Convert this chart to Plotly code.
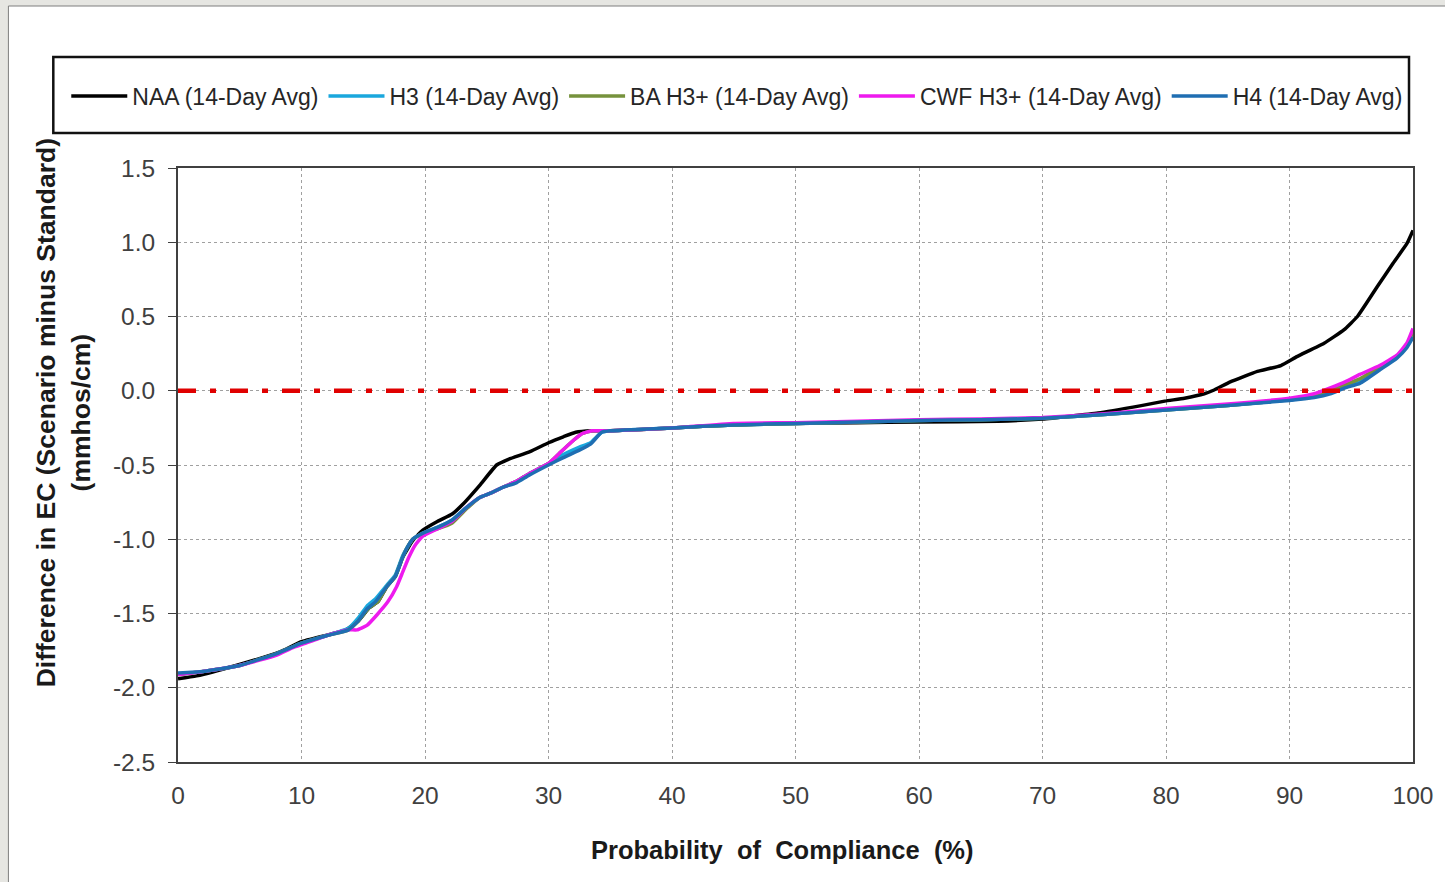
import plotly.graph_objects as go

# probability of compliance (%) and EC difference (mmhos/cm)
naa_x = [0, 1.5, 4.7, 8.2, 10, 13.6, 14.6, 15.5, 16.2, 16.9, 17.6, 18.2, 19.0, 19.8,
         21, 22.2, 23.0, 24.5, 25.8, 26.8, 28.5, 30, 31.2, 32.2, 33.5, 35, 40, 45,
         50, 55, 60, 66.4, 70, 74.5, 78, 79.9, 81.5, 83.1, 83.9, 85.2, 87.4, 89.3,
         90.6, 92.8, 94.4, 95.5, 97.1, 98.4, 99.5, 100]
naa_y = [-1.94, -1.92, -1.85, -1.76, -1.69, -1.61, -1.55, -1.46, -1.42, -1.32, -1.25,
         -1.12, -1.01, -0.94, -0.88, -0.83, -0.77, -0.63, -0.50, -0.46, -0.41, -0.35,
         -0.31, -0.28, -0.27, -0.27, -0.25, -0.23, -0.22, -0.215, -0.21, -0.205, -0.19,
         -0.15, -0.10, -0.07, -0.05, -0.02, 0.005, 0.06, 0.13, 0.17, 0.23, 0.32, 0.41,
         0.50, 0.70, 0.86, 0.99, 1.08]

h3_x = [0, 2, 5, 8, 10, 12, 13.8, 14.6, 15.3, 16.0, 16.9, 17.6, 18.2, 18.6, 19.0,
        19.8, 21, 22.2, 23.3, 24.4, 25.3, 26.3, 27.4, 28.4, 30, 31.2, 32.5, 33.4,
        34.3, 35, 40, 45, 50, 55, 60, 65, 70, 75, 80, 85, 90, 92, 93.3, 94.5, 95.7,
        97.3, 98.7, 99.5, 100]
h3_y = [-1.91, -1.89, -1.85, -1.77, -1.70, -1.65, -1.60, -1.53, -1.45, -1.40, -1.31,
        -1.24, -1.11, -1.05, -1.00, -0.96, -0.92, -0.87, -0.79, -0.72, -0.69, -0.65,
        -0.61, -0.56, -0.49, -0.43, -0.38, -0.35, -0.28, -0.27, -0.25, -0.23, -0.22,
        -0.21, -0.20, -0.195, -0.185, -0.16, -0.13, -0.10, -0.06, -0.04, -0.01, 0.03,
        0.06, 0.15, 0.23, 0.30, 0.38]

ba_x = [0, 2, 5, 8, 10, 12, 13.8, 14.6, 15.5, 16.2, 16.9, 17.6, 18.2, 18.6, 19.0,
        19.8, 21, 22.2, 23.3, 24.4, 25.3, 26.3, 27.4, 28.4, 30, 30.9, 31.8, 32.7,
        33.5, 35, 40, 45, 50, 55, 60, 65, 70, 75, 80, 85, 90, 92, 93.3, 94.5, 95.7,
        97.3, 98.7, 99.5, 100]
ba_y = [-1.91, -1.89, -1.85, -1.77, -1.70, -1.65, -1.61, -1.55, -1.46, -1.42, -1.32,
        -1.25, -1.12, -1.05, -1.00, -0.96, -0.93, -0.89, -0.80, -0.72, -0.69, -0.65,
        -0.61, -0.56, -0.49, -0.42, -0.35, -0.29, -0.27, -0.27, -0.25, -0.23, -0.22,
        -0.21, -0.20, -0.195, -0.185, -0.16, -0.13, -0.10, -0.06, -0.035, 0.0, 0.04,
        0.08, 0.16, 0.23, 0.31, 0.40]

cwf_x = [0, 2, 5, 8, 9.3, 10, 12, 13.8, 14.5, 15.3, 16.1, 17.0, 17.7, 18.2, 18.7,
         19.2, 19.8, 21, 22.2, 23.3, 24.4, 25.3, 26.3, 27.4, 28.4, 30, 30.9, 31.8,
         32.7, 33.5, 35, 40, 45, 50, 55, 60, 65, 70, 75, 80, 85, 90, 92, 93.3, 94.5,
         95.7, 97.3, 98.7, 99.5, 100]
cwf_y = [-1.91, -1.89, -1.85, -1.78, -1.73, -1.71, -1.65, -1.61, -1.61, -1.58, -1.51,
         -1.42, -1.32, -1.22, -1.12, -1.04, -0.98, -0.93, -0.88, -0.79, -0.72, -0.69,
         -0.65, -0.61, -0.56, -0.49, -0.42, -0.35, -0.29, -0.27, -0.27, -0.25, -0.22,
         -0.215, -0.205, -0.195, -0.19, -0.18, -0.155, -0.12, -0.09, -0.05, -0.02,
         0.02, 0.06, 0.11, 0.17, 0.24, 0.32, 0.42]

h4_x = h3_x
h4_y = [-1.90, -1.89, -1.85, -1.77, -1.70, -1.65, -1.61, -1.55, -1.47, -1.42, -1.32,
        -1.25, -1.12, -1.05, -1.00, -0.96, -0.92, -0.87, -0.79, -0.72, -0.69, -0.65,
        -0.62, -0.57, -0.50, -0.45, -0.40, -0.36, -0.28, -0.27, -0.25, -0.23, -0.22,
        -0.21, -0.20, -0.195, -0.185, -0.16, -0.13, -0.10, -0.065, -0.045, -0.02,
        0.02, 0.05, 0.14, 0.22, 0.29, 0.36]

series = [
    ("NAA (14-Day Avg)", naa_x, naa_y, "#000000"),
    ("H3 (14-Day Avg)", h3_x, h3_y, "#1aa7dd"),
    ("BA H3+ (14-Day Avg)", ba_x, ba_y, "#76923c"),
    ("CWF H3+ (14-Day Avg)", cwf_x, cwf_y, "#ee1aee"),
    ("H4 (14-Day Avg)", h4_x, h4_y, "#1f6eb2"),
]

standard_x = [0, 100]
standard_y = [0, 0]

x_ticks = [0, 10, 20, 30, 40, 50, 60, 70, 80, 90, 100]
y_ticks = [1.5, 1.0, 0.5, 0.0, -0.5, -1.0, -1.5, -2.0, -2.5]
y_tick_labels = ["1.5", "1.0", "0.5", "0.0", "-0.5", "-1.0", "-1.5", "-2.0", "-2.5"]

FONT = "Arial, Liberation Sans, sans-serif"

fig = go.Figure()

for name, xs, ys, color in series:
    fig.add_trace(
        go.Scatter(
            x=xs,
            y=ys,
            name=name,
            mode="lines",
            line=dict(color=color, width=3.5, shape="spline", smoothing=0.4),
        )
    )

# compliance standard (zero difference)
fig.add_trace(
    go.Scatter(
        x=standard_x,
        y=standard_y,
        mode="lines",
        showlegend=False,
        hoverinfo="skip",
        line=dict(color="#e00000", width=4.5, dash="18px,14px,6px,14px"),
    )
)

L, R, T, B = 178, 29, 168, 120
W, H = 1445, 882
pw, ph = W - L - R, H - T - B


def px_x(p):
    return (p - L) / pw


def px_y(p):
    return (H - B - p) / ph


fig.update_layout(
    width=W,
    height=H,
    margin=dict(l=L, r=R, t=T, b=B),
    paper_bgcolor="#e6e6e2",
    plot_bgcolor="white",
    font=dict(family=FONT, color="#404040"),
    showlegend=True,
    legend=dict(
        orientation="h",
        x=px_x(66),
        y=px_y(96),
        xanchor="left",
        yanchor="middle",
        font=dict(size=23, color="#262626"),
        bgcolor="rgba(0,0,0,0)",
        itemwidth=56,
        tracegroupgap=0,
    ),
    shapes=[
        # white chart panel
        dict(
            type="rect", xref="paper", yref="paper", layer="below",
            x0=px_x(8), x1=px_x(1460), y0=px_y(900), y1=px_y(6),
            fillcolor="white", line=dict(color="#7f7f7f", width=1),
        ),
        # legend frame
        dict(
            type="rect", xref="paper", yref="paper",
            x0=px_x(53), x1=px_x(1412), y0=px_y(133), y1=px_y(57),
            line=dict(color="#111111", width=2.5),
        ),
    ],
    annotations=[
        dict(
            text="<b>Difference in EC (Scenario minus Standard)<br>(mmhos/cm)</b>",
            xref="paper", yref="paper", x=px_x(63), y=px_y(413),
            xanchor="center", yanchor="middle", textangle=-90, showarrow=False,
            font=dict(size=26.5, color="#1a1a1a"),
        ),
        dict(
            text="<b>Probability  of  Compliance  (%)</b>",
            xref="paper", yref="paper", x=px_x(784), y=px_y(850),
            xanchor="center", yanchor="middle", showarrow=False,
            font=dict(size=25.5, color="#1a1a1a"),
        ),
    ],
)

fig.update_xaxes(
    range=[0, 100],
    tickvals=x_ticks,
    tickfont=dict(size=24.5),
    showgrid=True,
    gridcolor="#a0a0a0",
    gridwidth=1.3,
    griddash="dot",
    showline=True,
    linecolor="#404040",
    linewidth=2,
    mirror=True,
    ticks="",
    ticklabelstandoff=11,
    zeroline=False,
)
fig.update_yaxes(
    range=[-2.5, 1.5],
    tickvals=y_ticks,
    ticktext=y_tick_labels,
    tickfont=dict(size=24.5),
    showgrid=True,
    gridcolor="#a0a0a0",
    gridwidth=1.3,
    griddash="dot",
    showline=True,
    linecolor="#404040",
    linewidth=2,
    mirror=True,
    ticks="outside",
    ticklen=8,
    tickcolor="#404040",
    ticklabelstandoff=8,
    zeroline=False,
)

# page body margin would shift the figure by 8px
fig.write_html(
    "out.html",
    config={"displayModeBar": False},
    post_script="document.body.style.margin = '0';",
)
